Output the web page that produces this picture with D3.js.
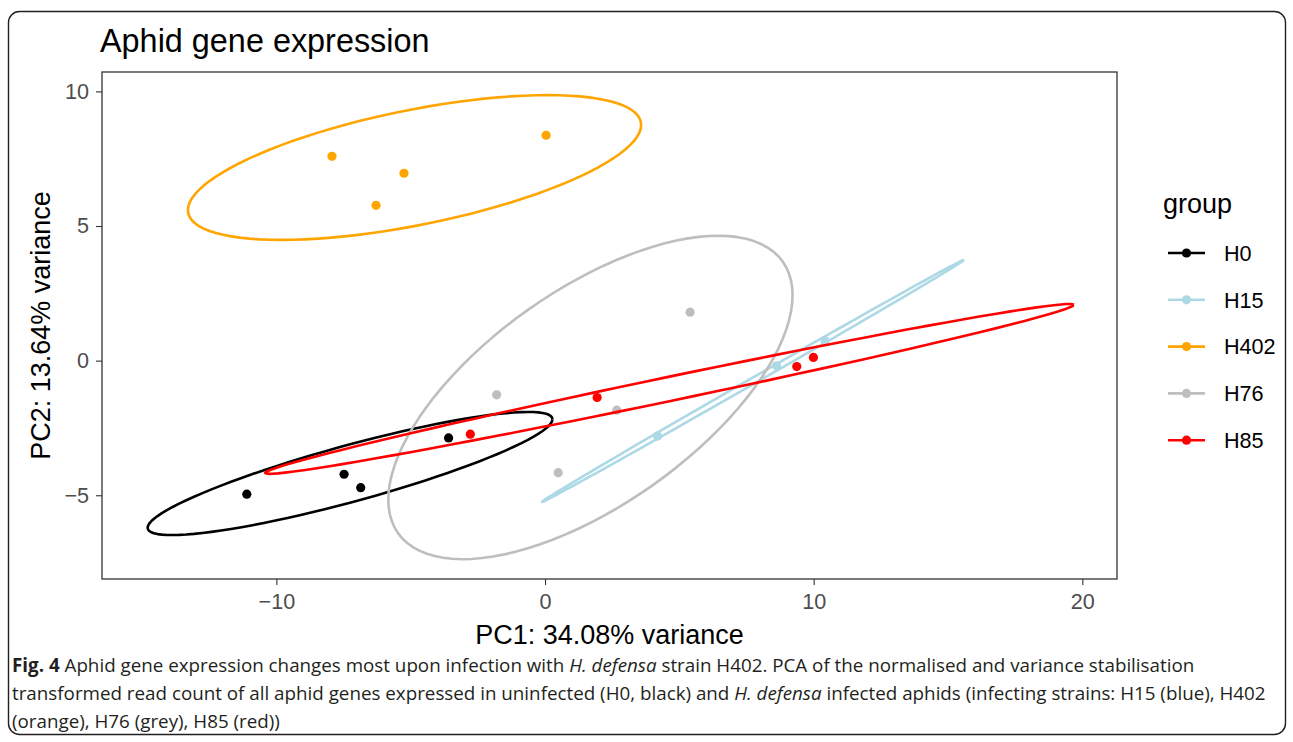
<!DOCTYPE html>
<html>
<head>
<meta charset="utf-8">
<script src="https://cdn.jsdelivr.net/npm/d3@7"></script>
<style>
   body { margin: 0; background: #fff; }
   svg { display: block; font-family: "Liberation Sans", Arial, sans-serif; }
   .caption { font-family: "Open Sans", sans-serif; font-size: 18.8px; fill: #231f20; }
</style>
</head>
<body>
<script>
// PCA scores [PC1, PC2] per aphid sample
const groups = ["H0", "H15", "H402", "H76", "H85"];
const colours = ["#000000", "#add8e6", "#ffa500", "#bebebe", "#ff0000"];

const h0 = [[-11.10, -4.96], [-7.48, -4.22], [-6.86, -4.72], [-3.59, -2.87]];
const h15 = [[4.19, -2.80], [8.62, -0.19], [10.42, 0.74]];
const h402 = [[-7.93, 7.59], [-6.29, 5.77], [-5.25, 6.96], [0.04, 8.37]];
const h76 = [[-1.80, -1.27], [5.40, 1.80], [2.67, -1.84], [0.49, -4.16]];
const h85 = [[-2.78, -2.73], [1.94, -1.37], [9.37, -0.22], [9.99, 0.12]];

const xTicks = [-10, 0, 10, 20];
const yTicks = [-5, 0, 5, 10];
const xDomain = [-16.49, 21.29];
const yDomain = [-8.11, 10.72];

const title = "Aphid gene expression";
const xTitle = "PC1: 34.08% variance";
const yTitle = "PC2: 13.64% variance";

let samples = [h0, h15, h402, h76, h85];

let o = {
   width: 1293,
   height: 742,
   panel: { left: 102, right: 1117, top: 72, bottom: 579 },
   pointRadius: 4.6,
   lineWidth: 2.6,
   level: 0.95,
   segments: 100,
   base: 27
};

// normal-theory confidence ellipse: sample covariance, chi-square(2) radius
function ellipse(pts) {
   let n = pts.length;
   let mx = d3.mean(pts, d => d[0]);
   let my = d3.mean(pts, d => d[1]);
   let sxx = d3.sum(pts, d => (d[0] - mx) * (d[0] - mx)) / (n - 1);
   let sxy = d3.sum(pts, d => (d[0] - mx) * (d[1] - my)) / (n - 1);
   let syy = d3.sum(pts, d => (d[1] - my) * (d[1] - my)) / (n - 1);
   let radius = Math.sqrt(-2 * Math.log(1 - o.level));
   let r11 = Math.sqrt(sxx);
   let r12 = sxy / r11;
   let r22 = Math.sqrt(Math.max(syy - r12 * r12, 0));
   return d3.range(o.segments + 1).map(k => {
      let t = k * 2 * Math.PI / o.segments;
      let cs = Math.cos(t), sn = Math.sin(t);
      return [mx + radius * cs * r11, my + radius * (cs * r12 + sn * r22)];
   });
}

let svg = d3.select("body").append("svg")
   .attr("width", o.width)
   .attr("height", o.height);

svg.append("rect")
   .attr("x", 8.5).attr("y", 11.5)
   .attr("width", 1277).attr("height", 723)
   .attr("rx", 11)
   .attr("fill", "none")
   .attr("stroke", "#231f20")
   .attr("stroke-width", 1.4);

let x = d3.scaleLinear().domain(xDomain).range([o.panel.left, o.panel.right]);
let y = d3.scaleLinear().domain(yDomain).range([o.panel.bottom, o.panel.top]);

svg.append("text")
   .attr("x", 100).attr("y", 52)
   .attr("font-size", o.base * 1.2)
   .attr("fill", "#000")
   .text(title);

function styleAxis(g) {
   g.select(".domain").remove();
   g.attr("font-size", o.base * 0.8).attr("font-family", null);
   g.selectAll(".tick line").attr("stroke", "#333").attr("stroke-width", 1.1);
   g.selectAll(".tick text").attr("fill", "#4d4d4d");
}

svg.append("g")
   .attr("transform", "translate(0," + o.panel.bottom + ")")
   .call(d3.axisBottom(x).tickValues(xTicks).tickSize(6).tickPadding(9))
   .call(styleAxis);

svg.append("g")
   .attr("transform", "translate(" + o.panel.left + ",0)")
   .call(d3.axisLeft(y).tickValues(yTicks).tickSize(6).tickPadding(7))
   .call(styleAxis);

let plot = svg.append("g");

plot.selectAll(".pts")
   .data(samples)
 .enter().append("g")
   .attr("class", "pts")
   .attr("fill", (d, i) => colours[i])
   .selectAll("circle")
   .data(d => d)
 .enter().append("circle")
   .attr("cx", d => x(d[0]))
   .attr("cy", d => y(d[1]))
   .attr("r", o.pointRadius);

plot.selectAll(".ell")
   .data(samples)
 .enter().append("path")
   .attr("class", "ell")
   .attr("fill", "none")
   .attr("stroke", (d, i) => colours[i])
   .attr("stroke-width", o.lineWidth)
   .attr("stroke-linejoin", "round")
   .attr("d", d => d3.line().x(p => x(p[0])).y(p => y(p[1]))(ellipse(d)));

svg.append("rect")
   .attr("x", o.panel.left).attr("y", o.panel.top)
   .attr("width", o.panel.right - o.panel.left)
   .attr("height", o.panel.bottom - o.panel.top)
   .attr("fill", "none")
   .attr("stroke", "#333")
   .attr("stroke-width", 1.3);

svg.append("text")
   .attr("x", (o.panel.left + o.panel.right) / 2).attr("y", 644)
   .attr("text-anchor", "middle")
   .attr("font-size", o.base)
   .text(xTitle);

svg.append("text")
   .attr("transform", "translate(50," + (o.panel.top + o.panel.bottom) / 2 + ") rotate(-90)")
   .attr("text-anchor", "middle")
   .attr("font-size", o.base)
   .text(yTitle);

// legend
let legend = svg.append("g").attr("transform", "translate(1163,0)");
legend.append("text")
   .attr("x", 0).attr("y", 213)
   .attr("font-size", o.base)
   .text("group");

let key = legend.selectAll(".key")
   .data(groups)
 .enter().append("g")
   .attr("class", "key")
   .attr("transform", (d, i) => "translate(0," + (253 + i * 46.8) + ")");

key.append("line")
   .attr("x1", 5).attr("x2", 42)
   .attr("stroke", (d, i) => colours[i])
   .attr("stroke-width", o.lineWidth);

key.append("circle")
   .attr("cx", 23.5)
   .attr("r", o.pointRadius)
   .attr("fill", (d, i) => colours[i]);

key.append("text")
   .attr("x", 61)
   .attr("dy", "0.36em")
   .attr("font-size", o.base * 0.8)
   .text(d => d);

// figure caption
let cap = svg.append("text").attr("class", "caption");
let l1 = cap.append("tspan").attr("x", 12).attr("y", 672);
l1.append("tspan").attr("font-weight", "bold").text("Fig. 4");
l1.append("tspan").text(" Aphid gene expression changes most upon infection with ");
l1.append("tspan").attr("font-style", "italic").text("H. defensa");
l1.append("tspan").text(" strain H402. PCA of the normalised and variance stabilisation");

let l2 = cap.append("tspan").attr("x", 12).attr("y", 700);
l2.append("tspan").text("transformed read count of all aphid genes expressed in uninfected (H0, black) and ");
l2.append("tspan").attr("font-style", "italic").text("H. defensa");
l2.append("tspan").text(" infected aphids (infecting strains: H15 (blue), H402");

cap.append("tspan").attr("x", 12).attr("y", 728)
   .text("(orange), H76 (grey), H85 (red))");
</script>
</body>
</html>
